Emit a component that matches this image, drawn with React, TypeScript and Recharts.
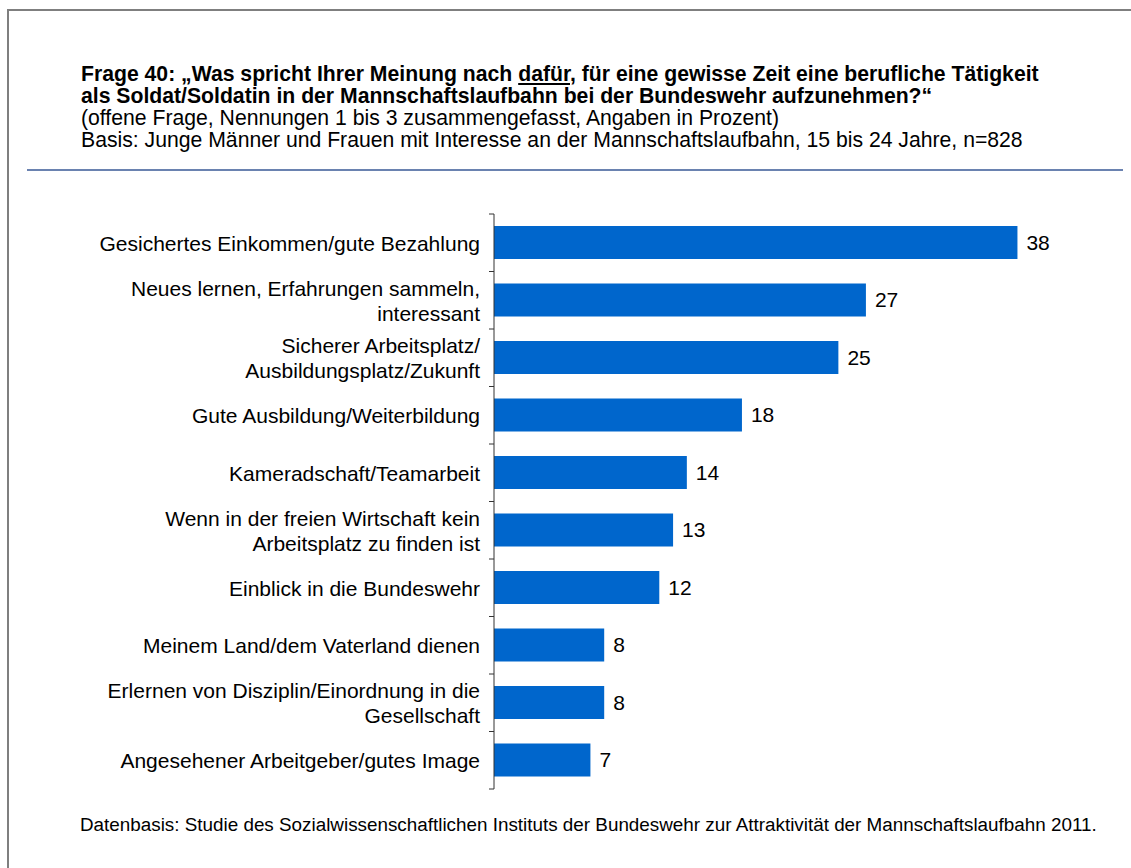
import { BarChart, Bar, XAxis, YAxis, LabelList } from 'recharts';

const FONT = "Arial, 'Liberation Sans', sans-serif";
const BLUE = '#0066CC';

// answers, top to bottom; \n marks the line breaks of the axis labels
const categories = [
    'Gesichertes Einkommen/gute Bezahlung',
    'Neues lernen, Erfahrungen sammeln,\ninteressant',
    'Sicherer Arbeitsplatz/\nAusbildungsplatz/Zukunft',
    'Gute Ausbildung/Weiterbildung',
    'Kameradschaft/Teamarbeit',
    'Wenn in der freien Wirtschaft kein\nArbeitsplatz zu finden ist',
    'Einblick in die Bundeswehr',
    'Meinem Land/dem Vaterland dienen',
    'Erlernen von Disziplin/Einordnung in die\nGesellschaft',
    'Angesehener Arbeitgeber/gutes Image',
];
const percents = [38, 27, 25, 18, 14, 13, 12, 8, 8, 7];

const data = categories.map((name, i) => ({ name, v: percents[i] }));

const W = 1131;
const H = 868;
const PLOT_LEFT = 494;
const PLOT_TOP = 214;
const PLOT_BOTTOM = 789;
const BAND = (PLOT_BOTTOM - PLOT_TOP) / categories.length;

function CategoryTick(props: any) {
    const { y, payload, index } = props;
    const lines = String(payload.value).split('\n');
    const top = y - BAND / 2;
    return (
        <g>
            <line x1={PLOT_LEFT - 5} x2={PLOT_LEFT} y1={top} y2={top} stroke="#333" strokeWidth={1} />
            {index === categories.length - 1 && (
                <line x1={PLOT_LEFT - 5} x2={PLOT_LEFT} y1={top + BAND} y2={top + BAND} stroke="#333" strokeWidth={1} />
            )}
            <text x={PLOT_LEFT - 14} y={y} textAnchor="end" fontSize={21} fontFamily={FONT} fill="#000">
                {lines.map((l, i) => (
                    <tspan key={i} x={PLOT_LEFT - 14} y={y + 8 + (i - (lines.length - 1) / 2) * 25}>{l}</tspan>
                ))}
            </text>
        </g>
    );
}

export default function App() {
    return (
        <div style={{ position: 'absolute', left: 0, top: 0, width: W, height: H, background: '#fff', fontFamily: FONT, color: '#000', overflow: 'hidden' }}>
            <div style={{ position: 'absolute', left: 7, top: 9, width: W - 7, height: H - 9, boxSizing: 'border-box', borderTop: '2px solid #7f7f7f', borderLeft: '2px solid #7f7f7f' }} />
            <div style={{ position: 'absolute', left: 81, top: 63, fontSize: 21.2, lineHeight: '22px', whiteSpace: 'nowrap' }}>
                <div style={{ fontWeight: 700 }}>
                    Frage 40: „Was spricht Ihrer Meinung nach <span style={{ textDecoration: 'underline' }}>dafür</span>, für eine gewisse Zeit eine berufliche Tätigkeit
                </div>
                <div style={{ fontWeight: 700 }}>als Soldat/Soldatin in der Mannschaftslaufbahn bei der Bundeswehr aufzunehmen?“</div>
                <div>(offene Frage, Nennungen 1 bis 3 zusammengefasst, Angaben in Prozent)</div>
                <div>Basis: Junge Männer und Frauen mit Interesse an der Mannschaftslaufbahn, 15 bis 24 Jahre, n=828</div>
            </div>
            <div style={{ position: 'absolute', left: 27, top: 169, width: 1096, height: 2, background: '#6A82B0' }} />
            <div style={{ position: 'absolute', left: 0, top: 0 }}>
                <BarChart
                    width={W}
                    height={H}
                    data={data}
                    layout="vertical"
                    margin={{ top: PLOT_TOP, bottom: H - PLOT_BOTTOM, left: 0, right: 86 }}
                >
                    <XAxis type="number" domain={[0, 40]} hide />
                    <YAxis
                        type="category"
                        dataKey="name"
                        width={PLOT_LEFT}
                        axisLine={{ stroke: '#333', strokeWidth: 1 }}
                        tickLine={false}
                        tick={<CategoryTick />}
                        interval={0}
                    />
                    <Bar dataKey="v" fill={BLUE} barSize={33} isAnimationActive={false}>
                        <LabelList dataKey="v" position="right" offset={9} fontSize={21} fontFamily={FONT} fill="#000" />
                    </Bar>
                </BarChart>
            </div>
            <div style={{ position: 'absolute', left: 80, top: 814, fontSize: 18.85, whiteSpace: 'nowrap' }}>
                Datenbasis: Studie des Sozialwissenschaftlichen Instituts der Bundeswehr zur Attraktivität der Mannschaftslaufbahn 2011.
            </div>
        </div>
    );
}
